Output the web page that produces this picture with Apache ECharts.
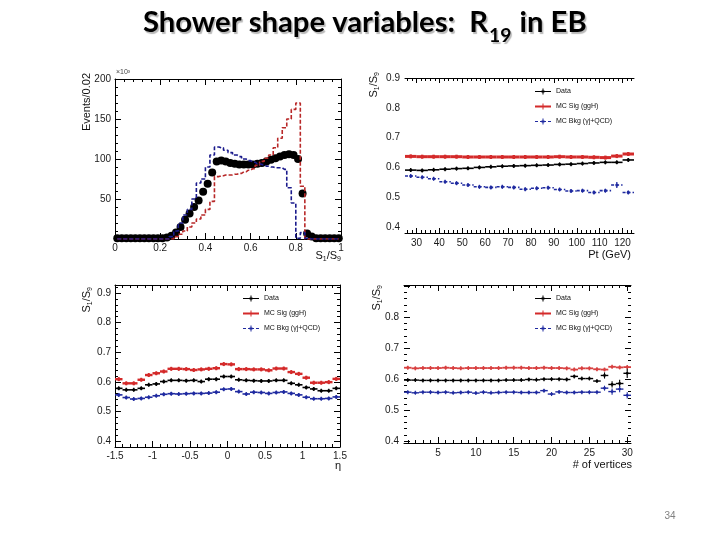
<!DOCTYPE html>
<html><head><meta charset="utf-8">
<script src="https://cdn.jsdelivr.net/npm/echarts@6/dist/echarts.min.js"></script>
<style>html,body{margin:0;padding:0;background:#fff}#c{width:720px;height:540px}</style>
</head><body><div id="c"></div>
<script>
// ---------------- DATA ----------------
// Panel 1: S1/S9 distribution (x10^3 events / 0.02), 50 bins from 0 to 1
const p1Bins = {lo: 0, width: 0.02, n: 50};
const p1DataVals = [1,1,1,1,1,1,1,1,1,1,1,2,4,8,15,24,32,40,48,59,69,83,97,98,97,95,94,93,93,93,93,94,95,97,99,101,103,105,106,105,100,57,7,3,1,1,1,1,1,1];
const p1SigVals  = [0,0,0,0,0,0,0,0,0,0,0,0,0,3,6,10,15,20,25,30,37,47,78,79,80,80,81,82,84,86,88,92,97,101,105,114,126,139,150,162,170,66,0,0,0,0,0,0,0,0];
const p1BkgVals  = [0,0,0,0,0,0,0,0,0,0,0,0,3,10,20,30,37,50,70,75,90,105,115,114,111,108,105,103,100,98,96,94,93,91,90,89,89,87,64,45,1,8,1,0,0,0,0,0,0,0];
const p1XLabels = ['0','0.2','0.4','0.6','0.8','1'];
const p1XLabelVals = [0,0.2,0.4,0.6,0.8,1];
const p1YLabels = ['50','100','150','200'];
const p1YLabelVals = [50,100,150,200];

// Panel 2: S1/S9 vs Pt, 20 bins of 5 GeV from 25 to 125
const p2Bins = {lo: 25, width: 5, n: 20};
const p2DataVals = [0.591,0.590,0.592,0.594,0.596,0.597,0.600,0.602,0.604,0.605,0.606,0.607,0.608,0.610,0.611,0.613,0.615,0.617,0.617,0.625];
const p2DataErr  = [0.001,0.001,0.001,0.001,0.001,0.001,0.001,0.001,0.001,0.001,0.001,0.001,0.001,0.001,0.001,0.002,0.002,0.002,0.003,0.003];
const p2SigVals  = [0.637,0.636,0.636,0.636,0.636,0.635,0.635,0.635,0.635,0.635,0.635,0.635,0.635,0.636,0.635,0.635,0.634,0.633,0.638,0.645];
const p2SigErr   = [0.002,0.002,0.002,0.002,0.002,0.002,0.002,0.002,0.002,0.002,0.002,0.002,0.002,0.002,0.002,0.002,0.002,0.002,0.003,0.004];
const p2BkgVals  = [0.571,0.567,0.562,0.552,0.547,0.541,0.535,0.533,0.535,0.533,0.527,0.530,0.532,0.526,0.521,0.522,0.516,0.522,0.541,0.516];
const p2BkgErr   = [0.002,0.002,0.002,0.002,0.002,0.002,0.002,0.002,0.002,0.002,0.002,0.002,0.003,0.003,0.004,0.004,0.005,0.006,0.010,0.006];
const p2XLabels = ['30','40','50','60','70','80','90','100','110','120'];
const p2XLabelVals = [30,40,50,60,70,80,90,100,110,120];
const p2YLabels = ['0.4','0.5','0.6','0.7','0.8','0.9'];
const p2YLabelVals = [0.4,0.5,0.6,0.7,0.8,0.9];

// Panel 3: S1/S9 vs eta, 30 bins of 0.1 from -1.5 to 1.5
const p3Bins = {lo: -1.5, width: 0.1, n: 30};
const p3DataVals = [0.578,0.573,0.573,0.578,0.590,0.593,0.601,0.605,0.605,0.604,0.605,0.601,0.609,0.609,0.618,0.618,0.607,0.605,0.604,0.603,0.603,0.605,0.605,0.595,0.590,0.581,0.576,0.570,0.570,0.578];
const p3SigVals  = [0.609,0.595,0.595,0.607,0.623,0.629,0.635,0.644,0.644,0.643,0.640,0.642,0.644,0.646,0.660,0.659,0.643,0.643,0.642,0.642,0.639,0.645,0.645,0.633,0.627,0.614,0.597,0.597,0.599,0.610];
const p3BkgVals  = [0.556,0.547,0.542,0.544,0.548,0.553,0.558,0.560,0.559,0.560,0.561,0.561,0.562,0.565,0.575,0.576,0.567,0.559,0.565,0.564,0.561,0.564,0.566,0.561,0.556,0.548,0.543,0.543,0.544,0.549];
const p3Err      = [0.002,0.002,0.002,0.002,0.002,0.002,0.002,0.002,0.002,0.002,0.002,0.002,0.002,0.002,0.002,0.002,0.002,0.002,0.002,0.002,0.002,0.002,0.002,0.002,0.002,0.002,0.002,0.002,0.002,0.002];
const p3XLabels = ['-1.5','-1','-0.5','0','0.5','1','1.5'];
const p3XLabelVals = [-1.5,-1,-0.5,0,0.5,1,1.5];
const p3YLabels = ['0.4','0.5','0.6','0.7','0.8','0.9'];
const p3YLabelVals = [0.4,0.5,0.6,0.7,0.8,0.9];

// Panel 4: S1/S9 vs number of vertices, 30 bins of width 1 centred on 1..30
const p4Bins = {lo: 0.5, width: 1, n: 30};
const p4DataVals = [0.597,0.597,0.596,0.596,0.596,0.596,0.596,0.596,0.596,0.596,0.596,0.596,0.596,0.597,0.597,0.597,0.599,0.598,0.600,0.600,0.600,0.599,0.609,0.602,0.602,0.594,0.612,0.583,0.586,0.619];
const p4DataErr  = [0.002,0.002,0.002,0.002,0.002,0.002,0.002,0.002,0.002,0.002,0.002,0.002,0.002,0.002,0.002,0.002,0.002,0.002,0.002,0.002,0.002,0.002,0.004,0.003,0.004,0.005,0.010,0.010,0.012,0.015];
const p4SigVals  = [0.637,0.635,0.636,0.636,0.636,0.637,0.636,0.635,0.636,0.636,0.636,0.636,0.636,0.637,0.637,0.637,0.636,0.636,0.637,0.636,0.636,0.635,0.631,0.635,0.635,0.632,0.631,0.640,0.638,0.639];
const p4SigErr   = [0.002,0.002,0.002,0.002,0.002,0.002,0.002,0.002,0.002,0.002,0.002,0.002,0.002,0.002,0.002,0.002,0.002,0.002,0.002,0.002,0.002,0.002,0.002,0.002,0.002,0.002,0.003,0.003,0.003,0.003];
const p4BkgVals  = [0.558,0.556,0.558,0.558,0.557,0.558,0.556,0.557,0.558,0.555,0.558,0.556,0.557,0.558,0.558,0.557,0.557,0.557,0.563,0.552,0.559,0.557,0.557,0.558,0.558,0.558,0.571,0.560,0.568,0.548];
const p4BkgErr   = [0.002,0.002,0.002,0.002,0.002,0.002,0.002,0.002,0.002,0.002,0.002,0.002,0.002,0.002,0.002,0.002,0.002,0.002,0.002,0.002,0.002,0.002,0.002,0.002,0.002,0.003,0.008,0.010,0.010,0.010];
const p4XLabels = ['5','10','15','20','25','30'];
const p4XLabelVals = [5,10,15,20,25,30];
const p4YLabels = ['0.4','0.5','0.6','0.7','0.8'];
const p4YLabelVals = [0.4,0.5,0.6,0.7,0.8];

const legendNames = ['Data', 'MC Sig (ggH)', 'MC Bkg (\u03b3j+QCD)'];

// ---------------- HELPERS ----------------
function centers(b){ const c=[]; for(let i=0;i<b.n;i++) c.push(+(b.lo + b.width*(i+0.5)).toFixed(6)); return c; }
function steps(a, b, d){ const r=[]; for(let v=a; v<=b+1e-9; v+=d) r.push(+v.toFixed(6)); return r; }

const FONT = 'Liberation Sans';
const xAxes = [], yAxes = [];
function mkAxis(o){
  const labVals = o.labelVals || [], labTxt = o.labels || [];
  return {
    type:'value', gridIndex:o.g, position:o.pos, min:o.min, max:o.max,
    splitLine:{show:false}, splitArea:{show:false},
    axisLine:{show:!!o.line, onZero:false, lineStyle:{color:'#000', width:1}},
    axisTick:{show:!!o.ticks, inside:true, length:o.len||6, customValues:o.ticks||[], lineStyle:{color:'#000', width:1}},
    minorTick:{show:false},
    axisLabel:{show:labVals.length>0, customValues:labVals, margin:o.margin||4,
      color:'#1a1a1a', fontSize:10, fontFamily:FONT,
      formatter:function(v){ let k=0,best=1e9; labVals.forEach((lv,i)=>{const d=Math.abs(lv-v); if(d<best){best=d;k=i;}}); return labTxt[k]; }},
    axisPointer:{show:false}
  };
}
function addPanel(p){
  const g=p.g;
  const xi = xAxes.length;
  xAxes.push(mkAxis({g, pos:'bottom', min:p.xmin, max:p.xmax, line:true, ticks:p.xMajor, len:p.majLen, labelVals:p.xLabelVals, labels:p.xLabels, margin:p.xMargin}));
  xAxes.push(mkAxis({g, pos:'bottom', min:p.xmin, max:p.xmax, ticks:p.xMinor, len:p.minLen}));
  xAxes.push(mkAxis({g, pos:'top', min:p.xmin, max:p.xmax, line:p.topLine, ticks:p.topTicks?p.xMajor:null, len:p.majLen}));
  xAxes.push(mkAxis({g, pos:'top', min:p.xmin, max:p.xmax, ticks:p.topTicks?p.xMinor:null, len:p.minLen}));
  const yi = yAxes.length;
  yAxes.push(mkAxis({g, pos:'left', min:p.ymin, max:p.ymax, line:p.leftLine, ticks:p.leftTicks?p.yMajor:null, len:p.majLen, labelVals:p.yLabelVals, labels:p.yLabels, margin:p.yMargin}));
  yAxes.push(mkAxis({g, pos:'left', min:p.ymin, max:p.ymax, ticks:p.leftTicks?p.yMinor:null, len:p.minLen}));
  yAxes.push(mkAxis({g, pos:'right', min:p.ymin, max:p.ymax, line:p.rightLine, ticks:p.rightTicks?p.yMajor:null, len:p.majLen}));
  yAxes.push(mkAxis({g, pos:'right', min:p.ymin, max:p.ymax, ticks:p.rightTicks?p.yMinor:null, len:p.minLen}));
  return {xi, yi};
}

const grids = [
  {left:115, top:79, width:226, height:160},
  {left:405, top:78, width:229, height:155},
  {left:115, top:285, width:225, height:162},
  {left:404, top:285, width:227, height:158}
];

const A1 = addPanel({g:0, xmin:0, xmax:1, ymin:0, ymax:200, xMajor:steps(0,1,0.2), xMinor:steps(0,1,0.04),
  yMajor:steps(0,200,50), yMinor:steps(0,200,10), xLabelVals:p1XLabelVals, xLabels:p1XLabels, yLabelVals:p1YLabelVals, yLabels:p1YLabels,
  topLine:true, topTicks:true, leftLine:true, leftTicks:true, rightLine:true, rightTicks:true, majLen:6, minLen:3, xMargin:4, yMargin:4});
const A2 = addPanel({g:1, xmin:25, xmax:125, ymin:0.38, ymax:0.9, xMajor:steps(30,120,10), xMinor:steps(26,124,2),
  yMajor:[], yMinor:[], xLabelVals:p2XLabelVals, xLabels:p2XLabels, yLabelVals:p2YLabelVals, yLabels:p2YLabels,
  topLine:true, topTicks:true, leftLine:false, leftTicks:false, rightLine:false, rightTicks:false, majLen:5, minLen:3, xMargin:5, yMargin:5});
const A3 = addPanel({g:2, xmin:-1.5, xmax:1.5, ymin:0.38, ymax:0.927, xMajor:steps(-1.5,1.5,0.5), xMinor:steps(-1.5,1.5,0.1),
  yMajor:steps(0.4,0.9,0.1), yMinor:steps(0.38,0.92,0.02), xLabelVals:p3XLabelVals, xLabels:p3XLabels, yLabelVals:p3YLabelVals, yLabels:p3YLabels,
  topLine:true, topTicks:true, leftLine:true, leftTicks:true, rightLine:true, rightTicks:true, majLen:6, minLen:3, xMargin:4, yMargin:4});
const A4 = addPanel({g:3, xmin:0.5, xmax:30.5, ymin:0.394, ymax:0.904, xMajor:steps(5,30,5), xMinor:steps(1,30,1),
  yMajor:steps(0.4,0.9,0.1), yMinor:steps(0.4,0.9,0.02), xLabelVals:p4XLabelVals, xLabels:p4XLabels, yLabelVals:p4YLabelVals, yLabels:p4YLabels,
  topLine:true, topTicks:true, leftLine:false, leftTicks:true, rightLine:false, rightTicks:true, majLen:6, minLen:3, xMargin:5, yMargin:5});

const RED='#d42a2a', BLACK='#000000', BLUE='#1f2aa0';

function errSeries(name, ax, cen, hw, vals, errs, color, lw, dash, mr){
  return {
    type:'custom', name, xAxisIndex:ax.xi, yAxisIndex:ax.yi, clip:true,
    itemStyle:{color}, encode:{x:0, y:1},
    data: cen.map((x,i)=>[x, vals[i], hw, errs[i]]),
    renderItem(params, api){
      const x=api.value(0), y=api.value(1), xe=api.value(2), ye=api.value(3);
      const a=api.coord([x-xe,y]), b=api.coord([x+xe,y]), c=api.coord([x,y]);
      const t=api.coord([x,y+ye]), u=api.coord([x,y-ye]);
      const y1=Math.min(t[1], c[1]-2), y2=Math.max(u[1], c[1]+2);
      return {type:'group', children:[
        {type:'line', shape:{x1:a[0],y1:a[1],x2:b[0],y2:b[1]}, style:{stroke:color, lineWidth:lw, lineDash:dash||null}},
        {type:'line', shape:{x1:c[0],y1:y1,x2:c[0],y2:y2}, style:{stroke:color, lineWidth:Math.max(1,lw*0.8)}},
        {type:'circle', shape:{cx:c[0],cy:c[1],r:mr}, style:{fill:color}}
      ]};
    }
  };
}

const c1 = centers(p1Bins), c2 = centers(p2Bins), c3 = centers(p3Bins), c4 = centers(p4Bins);

const series = [
  {type:'line', name:'p1sig', xAxisIndex:A1.xi, yAxisIndex:A1.yi, step:'middle', symbol:'none', silent:true,
   lineStyle:{color:'#b82828', width:1.6, type:[4,2]}, data:c1.map((x,i)=>[x,p1SigVals[i]])},
  {type:'line', name:'p1bkg', xAxisIndex:A1.xi, yAxisIndex:A1.yi, step:'middle', symbol:'none', silent:true,
   lineStyle:{color:'#1a1a8c', width:1.6, type:[4,2]}, data:c1.map((x,i)=>[x,p1BkgVals[i]])},
  {type:'scatter', name:'p1data', xAxisIndex:A1.xi, yAxisIndex:A1.yi, symbol:'circle', symbolSize:8, silent:true,
   itemStyle:{color:'#000', opacity:1}, data:c1.map((x,i)=>[x,p1DataVals[i]])},

  errSeries(legendNames[1], A2, c2, p2Bins.width/2, p2SigVals, p2SigErr, RED, 3, null, 1.6),
  errSeries(legendNames[0], A2, c2, p2Bins.width/2, p2DataVals, p2DataErr, BLACK, 1.6, null, 1.6),
  errSeries(legendNames[2], A2, c2, p2Bins.width/2, p2BkgVals, p2BkgErr, BLUE, 1.6, [3,2], 1.6),

  errSeries(legendNames[1], A3, c3, p3Bins.width/2, p3SigVals, p3Err, RED, 2.4, null, 1.6),
  errSeries(legendNames[0], A3, c3, p3Bins.width/2, p3DataVals, p3Err, BLACK, 1.6, null, 1.6),
  errSeries(legendNames[2], A3, c3, p3Bins.width/2, p3BkgVals, p3Err, BLUE, 1.6, null, 1.6),

  errSeries(legendNames[1], A4, c4, p4Bins.width/2, p4SigVals, p4SigErr, '#d84040', 1.8, null, 1.4),
  errSeries(legendNames[0], A4, c4, p4Bins.width/2, p4DataVals, p4DataErr, BLACK, 1.4, null, 1.4),
  errSeries(legendNames[2], A4, c4, p4Bins.width/2, p4BkgVals, p4BkgErr, BLUE, 1.4, null, 1.4)
];

const iconData = 'path://M0,2.5h16v1h-16z M7.5,0h1v6h-1z M6.5,2h3v2h-3z';
const iconSig  = 'path://M0,2h16v2h-16z M7.5,0h1v6h-1z';
const iconBkg  = 'path://M0,2.5h3v1h-3z M5,2.5h2v1h-2z M9,2.5h2v1h-2z M13,2.5h3v1h-3z M7.5,0h1v6h-1z M6.5,2h3v2h-3z';
function mkLegend(left, top){
  return {left, top, orient:'vertical', itemWidth:16, itemHeight:6, itemGap:6, padding:0, selectedMode:false,
    textStyle:{fontSize:7, color:'#111', fontFamily:FONT, lineHeight:9},
    data:[{name:legendNames[0], icon:iconData},{name:legendNames[1], icon:iconSig},{name:legendNames[2], icon:iconBkg}]};
}

// title measured so that it spans the reference width
const meas = document.createElement('canvas').getContext('2d');
function tw(font, s){ meas.font=font; return meas.measureText(s).width; }
const TF = 'Lato';
const t1 = 'Shower shape variables:  R', t2 = '19', t3 = ' in EB';
let fs = 24;
const tot0 = tw('bold '+fs+'px '+TF, t1) + tw('bold '+Math.round(fs*0.66)+'px '+TF, t2) + tw('bold '+fs+'px '+TF, t3);
fs = fs * 442 / tot0;
const fsSub = fs*0.66;
const w1 = tw('bold '+fs+'px '+TF, t1), w2 = tw('bold '+fsSub+'px '+TF, t2);
const tx0 = 143;
const shadow = {textShadowColor:'rgba(0,0,0,0.28)', textShadowOffsetX:1.5, textShadowOffsetY:1.5, textShadowBlur:1};

function gtext(x, y, text, opt){
  return Object.assign({type:'text', x, y, silent:true, style:Object.assign({text, fill:'#111', font:'11px '+FONT, textAlign:'left', textVerticalAlign:'middle'}, opt||{})});
}
const subRich = {s:{fontSize:7, fontFamily:FONT, verticalAlign:'bottom', lineHeight:8}, n:{fontSize:11, fontFamily:FONT, lineHeight:14}};
function ratioTitle(x, y, rot, align){
  const el = {type:'text', x, y, rotation:rot||0, silent:true,
    style:{text:'{n|S}{s|1}{n|/S}{s|9}', rich:subRich, fill:'#111', textAlign:align||'right', textVerticalAlign:'middle'}};
  return el;
}

const graphic = [
  {type:'text', x:tx0, y:23, silent:true, style:Object.assign({text:t1, font:'bold '+fs+'px '+TF, fill:'#000', textAlign:'left', textVerticalAlign:'middle'}, shadow)},
  {type:'text', x:tx0+w1+1, y:36, silent:true, style:Object.assign({text:t2, font:'bold '+fsSub+'px '+TF, fill:'#000', textAlign:'left', textVerticalAlign:'middle'}, shadow)},
  {type:'text', x:tx0+w1+w2+2, y:23, silent:true, style:Object.assign({text:t3, font:'bold '+fs+'px '+TF, fill:'#000', textAlign:'left', textVerticalAlign:'middle'}, shadow)},
  gtext(670, 516, '34', {fill:'#808080', font:'10px '+FONT, textAlign:'center'}),
  // panel 1 titles
  {type:'text', x:87, y:73, rotation:Math.PI/2, silent:true, style:{text:'Events/0.02', font:'11px '+FONT, fill:'#111', textAlign:'right', textVerticalAlign:'middle'}},
  gtext(116, 72, '\u00d710\u00b3', {font:'7px '+FONT, fill:'#444'}),
  ratioTitle(341, 256, 0, 'right'),
  // panel 2
  {type:'text', x:374, y:72, rotation:Math.PI/2, silent:true, style:{text:'{n|S}{s|1}{n|/S}{s|9}', rich:subRich, fill:'#111', textAlign:'right', textVerticalAlign:'middle'}},
  gtext(631, 255, 'Pt (GeV)', {textAlign:'right'}),
  // panel 3
  {type:'text', x:87, y:287, rotation:Math.PI/2, silent:true, style:{text:'{n|S}{s|1}{n|/S}{s|9}', rich:subRich, fill:'#111', textAlign:'right', textVerticalAlign:'middle'}},
  gtext(341, 466, '\u03b7', {textAlign:'right'}),
  // panel 4
  {type:'text', x:377, y:285, rotation:Math.PI/2, silent:true, style:{text:'{n|S}{s|1}{n|/S}{s|9}', rich:subRich, fill:'#111', textAlign:'right', textVerticalAlign:'middle'}},
  gtext(632, 465, '# of vertices', {textAlign:'right'})
];

const chart = echarts.init(document.getElementById('c'), null, {renderer:'canvas'});
chart.setOption({
  animation:false,
  backgroundColor:'#ffffff',
  grid: grids,
  xAxis: xAxes,
  yAxis: yAxes,
  legend: [mkLegend(535, 87), mkLegend(243, 294), mkLegend(535, 294)],
  series,
  graphic
});
</script>
</body></html>
